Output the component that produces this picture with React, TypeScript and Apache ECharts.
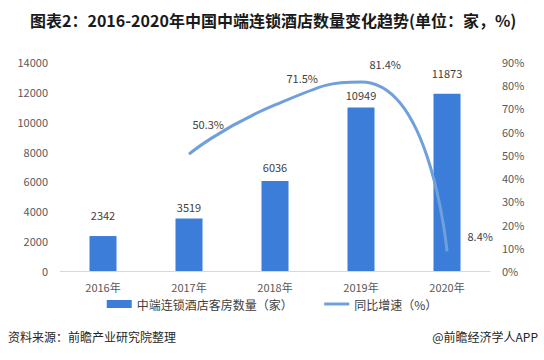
import React, { useEffect, useRef } from "react";
import * as echarts from "echarts";

const categories = ["2016年", "2017年", "2018年", "2019年", "2020年"];
const roomCounts = [2342, 3519, 6036, 10949, 11873];
const growthRates: (number | null)[] = [null, 50.3, 71.5, 81.4, 8.4];
const leftTicks = { min: 0, max: 14000, interval: 2000 };
const rightTicks = { min: 0, max: 90, interval: 10 };

const barLabelOffsets = [[0, -10], [0, 0], [0, -2], [0, -1], [0, -9]];
const lineLabelOffsets = [[0, 0], [-2, -30], [6, -27], [3, -18], [15, -15]];

const FONT = "'Noto Sans CJK SC', 'Microsoft YaHei', sans-serif";

export default function App() {
  const ref = useRef<HTMLDivElement>(null);
  useEffect(() => {
    if (!ref.current) return;
    const chart = echarts.init(ref.current, undefined, { renderer: "svg" });
    chart.setOption({
      animation: false,
      backgroundColor: "#ffffff",
      textStyle: { fontFamily: FONT },
      title: {
        text: "图表2：2016-2020年中国中端连锁酒店数量变化趋势(单位：家，%)",
        left: 25,
        top: 7,
        textStyle: { fontSize: 16, fontWeight: "bold", color: "#1a1a1a", fontFamily: FONT },
      },
      grid: { left: 60, right: 54, top: 62, bottom: 89, containLabel: false },
      legend: {
        left: "center",
        top: 293,
        itemGap: 30,
        textStyle: { fontSize: 12, color: "#404040" },
        data: [
          { name: "中端连锁酒店客房数量（家）", icon: "rect", itemStyle: { color: "#3b7dd8" } },
          { name: "同比增速（%）", itemStyle: { opacity: 0 }, lineStyle: { color: "#6fa0dc", width: 3 } },
        ],
        itemWidth: 25,
        itemHeight: 8,
      },
      xAxis: {
        type: "category",
        data: categories,
        axisLine: { lineStyle: { color: "#d9d9d9" } },
        axisTick: { show: false },
        axisLabel: { color: "#595959", fontSize: 11, margin: 10 },
      },
      yAxis: [
        {
          type: "value",
          ...leftTicks,
          splitLine: { show: false },
          axisLine: { show: false },
          axisTick: { show: false },
          axisLabel: { color: "#595959", fontSize: 11, margin: 12, formatter: (v: number) => String(v) },
        },
        {
          type: "value",
          ...rightTicks,
          splitLine: { show: false },
          axisLine: { show: false },
          axisTick: { show: false },
          axisLabel: { color: "#595959", fontSize: 11, margin: 12, formatter: "{value}%" },
        },
      ],
      series: [
        {
          name: "中端连锁酒店客房数量（家）",
          type: "bar",
          barWidth: 27,
          itemStyle: { color: "#3b7dd8" },
          data: roomCounts.map((v, i) => ({
            value: v,
            label: { offset: barLabelOffsets[i] },
          })),
          label: { show: true, position: "top", distance: 6, color: "#404040", fontSize: 11 },
        },
        {
          name: "同比增速（%）",
          type: "line",
          yAxisIndex: 1,
          smooth: 0.6,
          showSymbol: true,
          symbol: "circle",
          symbolSize: 1,
          lineStyle: { color: "#6fa0dc", width: 3 },
          itemStyle: { color: "rgba(111,160,220,0)", borderWidth: 0 },
          data: growthRates.map((v, i) => ({
            value: v,
            label: { offset: lineLabelOffsets[i] },
          })),
          label: {
            show: true,
            position: "right",
            color: "#404040",
            opacity: 1,
            fontSize: 11,
            formatter: (p: any) => (p.value == null ? "" : Number(p.value).toFixed(1) + "%"),
          },
        },
      ],
      graphic: [
        {
          type: "text",
          left: 8,
          top: 330,
          style: { text: "资料来源：前瞻产业研究院整理", fontSize: 12, fill: "#262626", fontFamily: FONT },
        },
        {
          type: "text",
          right: 6,
          top: 330,
          style: { text: "@前瞻经济学人APP", fontSize: 12, fill: "#262626", fontFamily: FONT },
        },
      ],
    });
    return () => chart.dispose();
  }, []);
  return <div ref={ref} style={{ width: 544, height: 360, position: "absolute", left: 0, top: 0 }} />;
}
